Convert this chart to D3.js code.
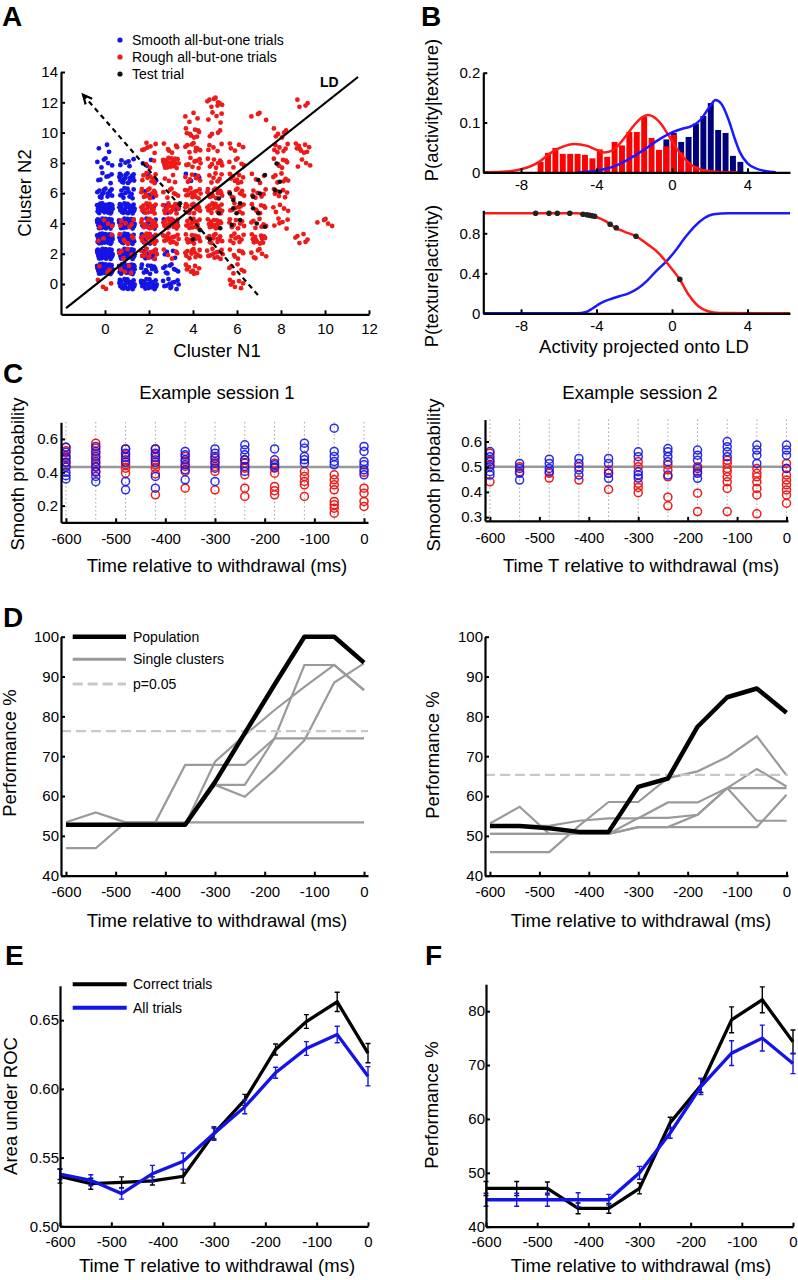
<!DOCTYPE html>
<html><head><meta charset="utf-8">
<script src="https://cdn.jsdelivr.net/npm/d3@7/dist/d3.min.js"></script>
<style>body{margin:0;background:#fff}svg{display:block}</style>
</head><body>
<script>
// ---------------- DATA ----------------
// Panel A: counts of trials per (N1, N2) spike-count cell
const smoothCounts = [
 [0,1,32],[0,2,36],[0,3,36],[0,4,32],[0,5,32],[0,6,14],[0,7,7],[0,8,6],[0,9,3],
 [1,0,24],[1,1,30],[1,2,30],[1,3,28],[1,4,28],[1,5,28],[1,6,12],[1,7,18],[1,8,6],
 [2,0,20],[2,1,12],[2,2,14],[2,3,14],[2,4,10],[2,5,4],[2,6,3],[2,7,2],[2,8,3],
 [3,0,12],[3,1,9],[3,2,4],[3,4,4],[3,5,3],
 [4,7,4]
];
const roughCounts = [
 [0,0,4],[0,1,3],[0,3,3],[0,4,4],
 [1,1,4],[1,2,5],[1,3,6],[1,4,6],
 [2,2,12],[2,3,15],[2,4,15],[2,5,15],[2,6,12],[2,7,9],[2,8,3],[2,9,7],
 [3,2,5],[3,3,15],[3,4,18],[3,5,16],[3,6,7],[3,7,4],[3,8,22],[3,9,6],
 [4,1,9],[4,2,12],[4,3,12],[4,4,14],[4,5,14],[4,6,14],[4,7,7],[4,8,9],[4,9,9],[4,10,9],[4,11,4],
 [5,2,12],[5,3,12],[5,4,14],[5,5,16],[5,6,14],[5,7,7],[5,8,9],[5,9,5],[5,10,4],[5,11,5],[5,12,9],
 [6,0,7],[6,1,6],[6,2,7],[6,3,9],[6,4,9],[6,5,9],[6,6,9],[6,7,9],[6,8,6],[6,9,5],
 [7,2,7],[7,3,12],[7,4,7],[7,5,7],[7,6,7],[7,7,4],[7,11,4],
 [8,4,6],[8,5,5],[8,6,7],[8,7,7],[8,8,7],[8,9,7],[8,10,6],
 [9,3,6],[9,8,4],[9,9,9],[9,12,4],
 [10,4,5]
];
const testTrials = [
 [4.0,2.95],[4.77,2.95],[5.17,5.65],[5.17,4.67],[5.24,3.68],[5.68,5.98],[5.83,5.0],[5.98,4.67],
 [6.14,5.33],[6.14,4.23],[5.76,3.9],[6.73,5.77],[6.97,6.87],[7.27,7.2],[6.73,5.0],[6.97,4.67],
 [6.9,4.0],[7.27,3.78],[7.04,5.98],[7.73,6.2],[7.95,6.09],[7.95,6.75],[7.8,7.96],[3.41,5.33],
 [4.32,3.56],[5.83,5.55]
];
const ldLine = [[-1.77,-1.59],[11.5,13.67]];
const projArrow = [[6.95,-0.73],[-1.0,12.5]];
const aLegend = ["Smooth all-but-one trials","Rough all-but-one trials","Test trial"];

// Panel B
const histBinStart = -7.16, histBinWidth = 0.392;
const roughHist = [0.021,0.039,0.049,0.037,0.037,0.037,0.035,0.028,0.046,0.031,0.061,0.054,0.081,0.081,0.112,0.069,0.045,0.052,0.075,0.04,0.02,0.012,0.006];
const smoothHistFirstBin = 17;
const smoothHist = [0.066,0.079,0.061,0.071,0.098,0.113,0.139,0.085,0.079,0.033,0.021];
const roughDensX = [-10,-9,-8,-7,-6.5,-6,-5.5,-5.2,-4.5,-4,-3.6,-3.2,-2.8,-2.4,-2.0,-1.6,-1.3,-1.0,-0.6,-0.2,0.2,0.6,1.0,1.5,2.0,3.0,3.5];
const roughDensY = [0,0.001,0.006,0.022,0.037,0.048,0.055,0.057,0.053,0.045,0.040,0.043,0.056,0.075,0.095,0.110,0.115,0.112,0.098,0.075,0.050,0.030,0.015,0.006,0.002,0.0,0];
const smoothDensX = [-5,-4.5,-4,-3.5,-3,-2.5,-2,-1.5,-1,-0.5,0,0.5,1,1.5,2,2.3,2.6,3,3.3,3.6,4,4.5,5,5.5];
const smoothDensY = [0,0.001,0.003,0.007,0.013,0.022,0.033,0.045,0.058,0.07,0.08,0.087,0.092,0.105,0.132,0.145,0.138,0.105,0.07,0.04,0.018,0.007,0.002,0];
const roughPostX = [-10,-5,-4.68,-4.15,-3.5,-3,-2.5,-1.9,-1.3,-0.7,-0.25,0.4,0.9,1.4,1.9,2.5,6.25];
const roughPostY = [1,1,0.99,0.97,0.92,0.855,0.815,0.77,0.69,0.6,0.5,0.34,0.18,0.07,0.02,0.003,0];
const smoothPostX = [-10,-5,-4.6,-4.2,-3.8,-3.3,-2.8,-2.3,-1.8,-1.3,-0.8,-0.3,0.2,0.7,1.2,1.7,2.2,3,6.25];
const smoothPostY = [0,0,0.01,0.05,0.1,0.14,0.17,0.2,0.25,0.33,0.43,0.52,0.63,0.76,0.87,0.95,0.99,1,1];
const testPostX = [-7.23,-6.52,-6.08,-5.42,-4.72,-4.51,-4.37,-4.24,-4.1,-3.28,-2.96,-1.91,0.41];
const testPostY = [1,1,1,1,0.99,0.985,0.98,0.975,0.97,0.89,0.855,0.77,0.34];

// Panel C
const cTimes = [-600,-540,-480,-420,-360,-300,-240,-180,-120,-60,0];
const c1Blue = [
 [0.55,0.52,0.49,0.46,0.43,0.40,0.38,0.36],
 [0.555,0.525,0.495,0.465,0.435,0.405,0.375,0.344],
 [0.54,0.515,0.49,0.46,0.345,0.295],
 [0.54,0.515,0.49,0.46,0.375,0.305],
 [0.525,0.505,0.475,0.445,0.415,0.355],
 [0.54,0.515,0.485,0.455,0.425,0.345],
 [0.565,0.535,0.505,0.475,0.435,0.405],
 [0.54,0.475,0.445,0.43],
 [0.575,0.545,0.495,0.475,0.455],
 [0.665,0.525,0.495,0.465,0.445],
 [0.555,0.525,0.465,0.445,0.415,0.385]
];
const c1Red = [
 [0.55,0.53,0.50,0.48,0.46,0.44],
 [0.575,0.545,0.515,0.485,0.455,0.43,0.40],
 [0.54,0.505,0.475,0.445,0.425,0.395],
 [0.54,0.505,0.475,0.445,0.425,0.39,0.265],
 [0.495,0.465,0.435,0.405,0.305],
 [0.495,0.465,0.435,0.405,0.295],
 [0.475,0.455,0.425,0.385,0.305,0.255],
 [0.455,0.425,0.395,0.315,0.29,0.265],
 [0.405,0.375,0.345,0.325,0.255],
 [0.385,0.355,0.325,0.295,0.225,0.205,0.185,0.155],
 [0.40,0.305,0.275,0.225,0.195]
];
const c1Mean = 0.432;
const c2Blue = [
 [0.56,0.54,0.52,0.50,0.48,0.467],
 [0.513,0.493,0.474,0.447],
 [0.53,0.513,0.493,0.48],
 [0.533,0.513,0.487,0.467],
 [0.533,0.513,0.474,0.454],
 [0.559,0.54,0.48,0.467,0.455],
 [0.572,0.559,0.54,0.52,0.467],
 [0.566,0.546,0.526,0.493,0.474,0.454],
 [0.6,0.579,0.559,0.54],
 [0.586,0.566,0.546,0.513],
 [0.586,0.566,0.546,0.493]
];
const c2Red = [
 [0.553,0.526,0.507,0.44],
 [0.5,0.48],
 [0.474,0.455],
 [0.5,0.447],
 [0.487,0.474,0.41],
 [0.52,0.5,0.434,0.418,0.397],
 [0.507,0.487,0.46,0.379,0.345],
 [0.5,0.48,0.395,0.322],
 [0.526,0.513,0.493,0.48,0.46,0.44,0.414,0.322],
 [0.493,0.474,0.46,0.44,0.414,0.388,0.313],
 [0.513,0.493,0.467,0.447,0.428,0.408,0.388,0.355]
];
const c2Mean = 0.5;

// Panel D
const dTimes = cTimes;
const d1Pop = [52.8,52.8,52.8,52.8,52.8,63.5,75.8,88,100,100,93.5];
const d1Clusters = [
 [53.4,55.9,53.4,53.4,67.8,67.8,67.8,74.5,74.5,74.5,74.5],
 [46.9,46.9,53.4,53.4,53.4,53.4,53.4,53.4,53.4,53.4,53.4],
 [52.8,52.8,52.8,52.8,52.8,62.8,62.8,74.5,92.9,92.9,86.6],
 [52.8,52.8,52.8,52.8,52.8,62.8,59.8,66.5,74.0,88.5,93.3],
 [52.8,52.8,52.8,52.8,52.8,68.6,75.3,81.6,87.4,92.9,86.6]
];
const d1Chance = 76.3;
const d2Pop = [52.5,52.5,51.9,51.0,51.0,62.3,64.4,77.4,84.8,87.0,80.9];
const d2Clusters = [
 [53.1,57.3,50.5,50.5,50.5,52.2,52.2,52.2,52.2,52.2,60.3],
 [45.9,45.9,45.9,52.5,58.5,58.5,64.5,66.2,69.8,75.0,65.2],
 [50.5,50.5,50.5,50.5,50.5,54.5,54.5,55.3,62.0,53.8,53.8],
 [52.5,52.5,52.5,53.8,54.4,54.4,58.4,58.4,62.0,62.0,62.0],
 [50.5,50.5,50.5,50.5,50.5,52.2,52.2,55.3,62.0,66.8,62.4]
];
const d2Chance = 65.3;
const dLegend = ["Population","Single clusters","p=0.05"];

// Panel E
const eTimes = cTimes;
const eCorrect = [0.5364,0.531,0.532,0.533,0.5364,0.5675,0.592,0.6287,0.649,0.6633,0.626];
const eCorrectErr = [0.005,0.004,0.004,0.003,0.005,0.004,0.004,0.004,0.005,0.007,0.007];
const eAll = [0.538,0.5335,0.5238,0.5383,0.5473,0.5675,0.5869,0.6117,0.6294,0.6396,0.6092];
const eAllErr = [0.004,0.004,0.004,0.006,0.006,0.005,0.005,0.004,0.005,0.006,0.007];
const eLegend = ["Correct trials","All trials"];

// Panel F
const fTimes = cTimes;
const fCorrect = [47.1,47.1,47.1,43.4,43.4,47.1,59.3,66.2,78.4,82.1,74.3];
const fCorrectErr = [1.3,1.3,1.2,1.0,0.9,1.0,1.0,1.3,2.4,2.4,2.2];
const fAll = [45,45,45,45,45,50,57.4,66,72.2,75,70.3];
const fAllErr = [1.2,1.2,1.2,1.3,1.0,1.2,1.0,1.5,2.3,2.4,1.9];

// ---------------- DRAWING ----------------
const FONT = "'Liberation Sans', Arial, Helvetica, sans-serif";
const BLUE = "#1414e6", RED = "#ee1a1a", NAVY = "#00007a", GRAY = "#9a9a9a", LGRAY = "#c8c8c8";
const svg = d3.select("body").append("svg").attr("width",798).attr("height",1280)
  .style("font-family",FONT);
svg.append("rect").attr("width",798).attr("height",1280).attr("fill","#fff");

function axes(g, x, y, o) {
  const xa = d3.axisBottom(x).tickValues(o.xTicks).tickFormat(o.xFmt || (d => String(d)))
    .tickSizeInner(-4).tickSizeOuter(0).tickPadding(o.xPad ?? 11);
  const ya = d3.axisLeft(y).tickValues(o.yTicks).tickFormat(o.yFmt || (d => String(d)))
    .tickSizeInner(-4).tickSizeOuter(0).tickPadding(o.yPad ?? 3);
  const gx = g.append("g").attr("transform",`translate(0,${y.range()[0]})`).call(xa);
  const gy = g.append("g").attr("transform",`translate(${x.range()[0]},0)`).call(ya);
  [gx,gy].forEach(a => {
    a.attr("font-family",FONT).attr("font-size",15);
    a.select(".domain").attr("stroke","#000").attr("stroke-width",2.2);
    a.selectAll(".tick line").attr("stroke","#000").attr("stroke-width",2);
    a.selectAll(".tick text").attr("fill","#000").attr("font-size",15);
  });
}
function label(txt, x, y, rot, size, weight, anchor) {
  const t = svg.append("text").text(txt).attr("font-size",size||18.5)
    .attr("font-weight",weight||"normal").attr("text-anchor",anchor||"middle")
    .attr("dy","0.35em").attr("fill","#000");
  if (rot) t.attr("transform",`translate(${x},${y}) rotate(-90)`);
  else t.attr("x",x).attr("y",y);
  return t;
}
function letter(txt,x,y){ svg.append("text").text(txt).attr("x",x).attr("y",y)
  .attr("font-size",28).attr("font-weight","bold").attr("fill","#000"); }
function halton(i,b){ let f=1,r=0; while(i>0){ f/=b; r+=f*(i%b); i=Math.floor(i/b);} return r; }

// ----- Panel A -----
{
  const x = d3.scaleLinear().domain([-2,12]).range([61,369]);
  const y = d3.scaleLinear().domain([-2,14]).range([314.3,72]);
  const g = svg.append("g");
  const pts = (cells, salt) => {
    const out = [];
    cells.forEach(([a,b,n]) => {
      const s = (a*7 + b*13 + salt) % 23;
      for (let j=0;j<n;j++){
        out.push([a + (halton(j+1+s,2)-0.5)*0.74, b + (halton(j+1+s,3)-0.5)*0.7]);
      }
    });
    return out;
  };
  g.selectAll(".sb").data(pts(smoothCounts,0)).join("circle")
    .attr("cx",d=>x(d[0])).attr("cy",d=>y(d[1])).attr("r",2.4).attr("fill",BLUE);
  g.selectAll(".rr").data(pts(roughCounts,5)).join("circle")
    .attr("cx",d=>x(d[0])).attr("cy",d=>y(d[1])).attr("r",2.4).attr("fill",RED);
  // LD line
  g.append("line").attr("x1",x(ldLine[0][0])).attr("y1",y(ldLine[0][1]))
    .attr("x2",x(ldLine[1][0])).attr("y2",y(ldLine[1][1])).attr("stroke","#000").attr("stroke-width",2.2);
  // projection arrow (dashed)
  const ax1=x(projArrow[0][0]), ay1=y(projArrow[0][1]), ax2=x(projArrow[1][0]), ay2=y(projArrow[1][1]);
  g.append("line").attr("x1",ax1).attr("y1",ay1).attr("x2",ax2).attr("y2",ay2)
    .attr("stroke","#000").attr("stroke-width",2.2).attr("stroke-dasharray","5,4");
  const ang = Math.atan2(ay2-ay1, ax2-ax1), L=10, sp=0.45;
  g.append("path").attr("d",`M${ax2-L*Math.cos(ang-sp)},${ay2-L*Math.sin(ang-sp)}L${ax2},${ay2}L${ax2-L*Math.cos(ang+sp)},${ay2-L*Math.sin(ang+sp)}`)
    .attr("fill","none").attr("stroke","#000").attr("stroke-width",2.2);
  g.selectAll(".tt").data(testTrials).join("circle")
    .attr("cx",d=>x(d[0])).attr("cy",d=>y(d[1])).attr("r",2.3).attr("fill","#111");
  axes(g,x,y,{xTicks:[0,2,4,6,8,10,12], yTicks:[0,2,4,6,8,10,12,14], xPad:9});
  svg.append("text").text("LD").attr("x",320).attr("y",87).attr("font-size",14).attr("font-weight","bold");
  const lc=[BLUE,RED,"#111"];
  aLegend.forEach((t,i)=>{
    svg.append("circle").attr("cx",120).attr("cy",40+i*17).attr("r",2.6).attr("fill",lc[i]);
    svg.append("text").text(t).attr("x",132).attr("y",40+i*17).attr("dy","0.35em").attr("font-size",14);
  });
  label("Cluster N2",25,193,true);
  label("Cluster N1",217,351);
  letter("A",2,26);
}

// ----- Panel B -----
{
  const x = d3.scaleLinear().domain([-10,6.25]).range([483.3,790]);
  const y = d3.scaleLinear().domain([0,0.2]).range([172.3,72.7]);
  const g = svg.append("g");
  const bw = histBinWidth;
  const barW = x(bw*0.8)-x(0);
  g.selectAll(".nb").data(smoothHist).join("rect")
    .attr("x",(d,i)=>x(histBinStart+(smoothHistFirstBin+i+0.5)*bw)-barW/2).attr("width",barW)
    .attr("y",d=>y(d)).attr("height",d=>y(0)-y(d)).attr("fill",NAVY);
  g.selectAll(".rb").data(roughHist).join("rect")
    .attr("x",(d,i)=>x(histBinStart+(i+0.5)*bw)-barW/2).attr("width",barW)
    .attr("y",d=>y(d)).attr("height",d=>y(0)-y(d)).attr("fill","#ff0000");
  const ln = d3.line().x(d=>x(d[0])).y(d=>y(d[1])).curve(d3.curveMonotoneX);
  g.append("path").attr("d",ln(d3.zip(roughDensX,roughDensY))).attr("fill","none").attr("stroke","#ff1a1a").attr("stroke-width",2.5);
  g.append("path").attr("d",ln(d3.zip(smoothDensX,smoothDensY))).attr("fill","none").attr("stroke","#1a1aff").attr("stroke-width",2.5);
  axes(g,x,y,{xTicks:[-8,-4,0,4], yTicks:[0,0.1,0.2], yFmt:d=>d===0?"0":d3.format(".1f")(d), xPad:7});

  const y2 = d3.scaleLinear().domain([0,1.03]).range([313.3,210.3]);
  const g2 = svg.append("g");
  const ln2 = d3.line().x(d=>x(d[0])).y(d=>y2(d[1])).curve(d3.curveMonotoneX);
  g2.append("path").attr("fill","none").attr("stroke","#1a1aff").attr("stroke-width",2.5)
    .attr("d",ln2(d3.zip(smoothPostX,smoothPostY)));
  g2.append("path").attr("fill","none").attr("stroke","#ff1a1a").attr("stroke-width",2.5)
    .attr("d",ln2(d3.zip(roughPostX,roughPostY)));
  g2.selectAll(".tp").data(d3.zip(testPostX,testPostY)).join("circle")
    .attr("cx",d=>x(d[0])).attr("cy",d=>y2(d[1])).attr("r",2.8).attr("fill","#222");
  axes(g2,x,y2,{xTicks:[-8,-4,0,4], yTicks:[0,0.4,0.8], yFmt:d=>d===0?"0":d3.format(".1f")(d), xPad:7});
  label("P(activity|texture)",432,110,true);
  label("P(texture|activity)",432,276,true);
  label("Activity projected onto LD",644,347);
  letter("B",421,26);
}

// ----- Panel C -----
function panelC(x, y, blue, red, mean, yTicks) {
  const g = svg.append("g");
  const [yb, yt] = y.range();
  g.selectAll(".dl").data(cTimes).join("line")
    .attr("x1",d=>x(d)).attr("x2",d=>x(d)).attr("y1",yt).attr("y2",yb)
    .attr("stroke","#777").attr("stroke-width",1).attr("stroke-dasharray","1,3");
  g.append("line").attr("x1",x.range()[0]).attr("x2",x.range()[1]).attr("y1",y(mean)).attr("y2",y(mean))
    .attr("stroke","#999").attr("stroke-width",2.5);
  const flat = arr => arr.flatMap((vals,i)=>vals.map(v=>[cTimes[i],v]));
  g.selectAll(".cr").data(flat(red)).join("circle")
    .attr("cx",d=>x(d[0])).attr("cy",d=>y(d[1])).attr("r",4)
    .attr("fill","none").attr("stroke",RED).attr("stroke-width",1.5);
  g.selectAll(".cb").data(flat(blue)).join("circle")
    .attr("cx",d=>x(d[0])).attr("cy",d=>y(d[1])).attr("r",4)
    .attr("fill","none").attr("stroke",BLUE).attr("stroke-width",1.5).attr("stroke-opacity",0.9);
  axes(g,x,y,{xTicks:[-600,-500,-400,-300,-200,-100,0], yTicks, yFmt:d3.format(".1f")});
}
{
  const x1 = d3.scaleLinear().domain([-610,8]).range([61,368]);
  const y1 = d3.scaleLinear().domain([0.1,0.7]).range([522.3,422.3]);
  panelC(x1,y1,c1Blue,c1Red,c1Mean,[0.2,0.4,0.6]);
  const x2 = d3.scaleLinear().domain([-610,3]).range([485,788]);
  const y2 = d3.scaleLinear().domain([0.285,0.687]).range([520.9,419.6]);
  panelC(x2,y2,c2Blue,c2Red,c2Mean,[0.3,0.4,0.5,0.6]);
  label("Example session 1",217,393);
  label("Example session 2",640,393);
  label("Smooth probability",18,474,true);
  label("Smooth probability",434,475,true);
  label("Time relative to withdrawal (ms)",217,566);
  label("Time T relative to withdrawal (ms)",641,566);
  letter("C",3,383);
}

// ----- Panel D -----
function panelD(x, y, pop, clusters, chance) {
  const g = svg.append("g");
  const ln = d3.line().x((d,i)=>x(dTimes[i])).y(d=>y(d));
  g.selectAll(".gc").data(clusters).join("path").attr("d",ln)
    .attr("fill","none").attr("stroke",GRAY).attr("stroke-width",2.2);
  g.append("line").attr("x1",x.range()[0]).attr("x2",x.range()[1]).attr("y1",y(chance)).attr("y2",y(chance))
    .attr("stroke",LGRAY).attr("stroke-width",2.2).attr("stroke-dasharray","10,5");
  g.append("path").attr("d",ln(pop)).attr("fill","none").attr("stroke","#000").attr("stroke-width",4.5)
    .attr("stroke-linejoin","round");
  axes(g,x,y,{xTicks:[-600,-500,-400,-300,-200,-100,0], yTicks:[40,50,60,70,80,90,100], yPad:2});
}
{
  const x1 = d3.scaleLinear().domain([-610,8]).range([61,368]);
  const y = d3.scaleLinear().domain([40,100]).range([875.7,636.7]);
  panelD(x1,y,d1Pop,d1Clusters,d1Chance);
  const x2 = d3.scaleLinear().domain([-610,3]).range([485,788]);
  panelD(x2,y,d2Pop,d2Clusters,d2Chance);
  const ly=[636.7,659.3,684];
  svg.append("line").attr("x1",72.7).attr("x2",126).attr("y1",ly[0]).attr("y2",ly[0]).attr("stroke","#000").attr("stroke-width",4.5);
  svg.append("line").attr("x1",72.7).attr("x2",126).attr("y1",ly[1]).attr("y2",ly[1]).attr("stroke",GRAY).attr("stroke-width",3);
  svg.append("line").attr("x1",72.7).attr("x2",126).attr("y1",ly[2]).attr("y2",ly[2]).attr("stroke",LGRAY).attr("stroke-width",3).attr("stroke-dasharray","10,5");
  dLegend.forEach((t,i)=>svg.append("text").text(t).attr("x",133).attr("y",ly[i]).attr("dy","0.35em").attr("font-size",14));
  label("Performance %",10,753,true);
  label("Performance %",433,755,true);
  label("Time relative to withdrawal (ms)",217,921);
  label("Time relative to withdrawal (ms)",641,921);
  letter("D",3,627);
}

// ----- Panels E & F -----
function errPanel(x, y, times, a, aErr, b, bErr, yTicks, yFmt) {
  const g = svg.append("g");
  const ln = d3.line().x((d,i)=>x(times[i])).y(d=>y(d));
  const bars = (vals, errs, col) => {
    vals.forEach((v,i)=>{
      const cx = x(times[i]), t = y(v+errs[i]), bt = y(v-errs[i]);
      g.append("path").attr("d",`M${cx},${t}V${bt}M${cx-2.5},${t}H${cx+2.5}M${cx-2.5},${bt}H${cx+2.5}`)
        .attr("stroke",col).attr("stroke-width",1.4).attr("fill","none");
    });
  };
  g.append("path").attr("d",ln(a)).attr("fill","none").attr("stroke","#000").attr("stroke-width",3.3);
  bars(a,aErr,"#000");
  g.append("path").attr("d",ln(b)).attr("fill","none").attr("stroke",BLUE).attr("stroke-width",3.3);
  bars(b,bErr,BLUE);
  axes(g,x,y,{xTicks:[-600,-500,-400,-300,-200,-100,0], yTicks, yFmt, yPad:1, xPad:10});
}
{
  const xe = d3.scaleLinear().domain([-600,0]).range([60,368]);
  const ye = d3.scaleLinear().domain([0.5,0.675]).range([1226.3,985.8]);
  errPanel(xe,ye,eTimes,eCorrect,eCorrectErr,eAll,eAllErr,[0.5,0.55,0.6,0.65],d3.format(".2f"));
  const xf = d3.scaleLinear().domain([-600,0]).range([486,793]);
  const yf = d3.scaleLinear().domain([40,85]).range([1226.7,984.2]);
  errPanel(xf,yf,fTimes,fCorrect,fCorrectErr,fAll,fAllErr,[40,50,60,70,80]);
  svg.append("line").attr("x1",72.7).attr("x2",126.7).attr("y1",984.3).attr("y2",984.3).attr("stroke","#000").attr("stroke-width",4);
  svg.append("line").attr("x1",72.7).attr("x2",126.7).attr("y1",1007.7).attr("y2",1007.7).attr("stroke",BLUE).attr("stroke-width",4);
  eLegend.forEach((t,i)=>svg.append("text").text(t).attr("x",133).attr("y",[984.3,1007.7][i]).attr("dy","0.35em").attr("font-size",14));
  label("Area under ROC",11,1106,true);
  label("Performance %",432,1105,true);
  label("Time T relative to withdrawal (ms)",217,1266);
  label("Time relative to withdrawal (ms)",641,1266);
  letter("E",5,965);
  letter("F",425,965);
}
</script>
</body></html>
